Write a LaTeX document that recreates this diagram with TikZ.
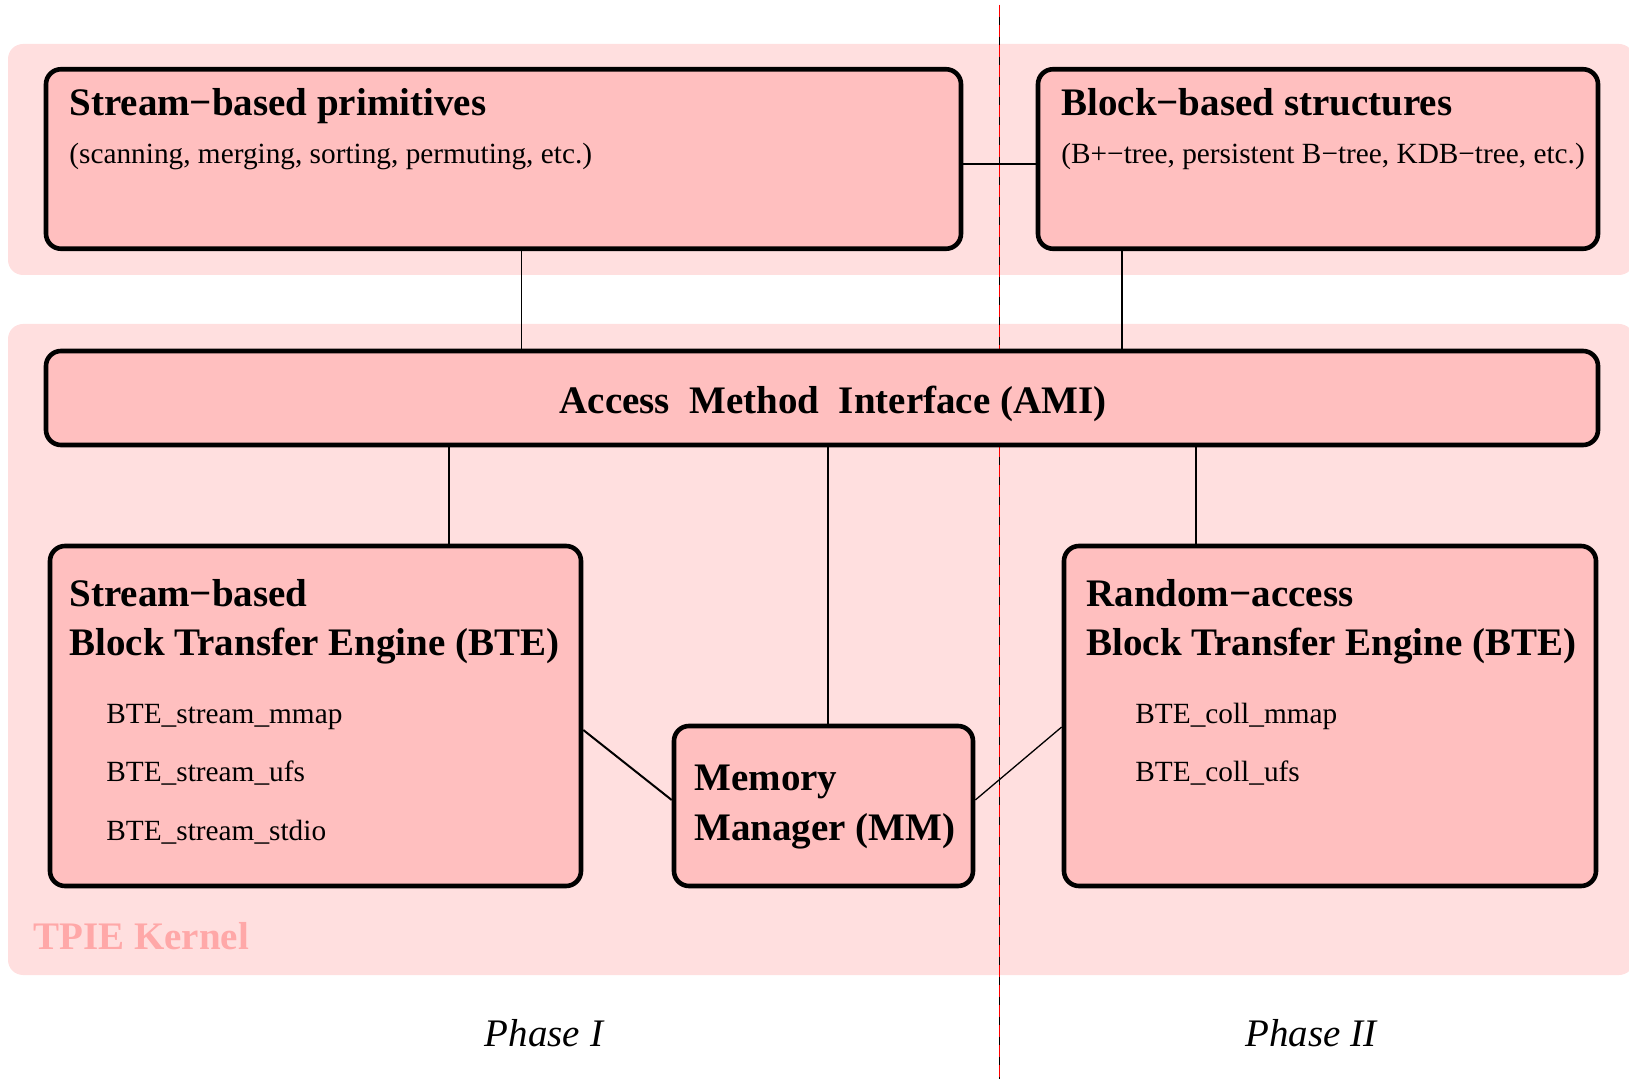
\documentclass[tikz,border=0pt]{standalone}
\usepackage{fontspec}
\setmainfont{Liberation Serif}
\definecolor{bandpink}{HTML}{FFDFDF}
\definecolor{boxpink}{HTML}{FFBFBF}
\definecolor{kernelpink}{HTML}{FFA8A8}
\begin{document}
\begin{tikzpicture}[x=0.5pt,y=-0.5pt,
  band/.style={fill=bandpink, rounded corners=7.5pt},
  box/.style={draw=black, line width=2.3pt, fill=boxpink, rounded corners=7.5pt, inner sep=0pt},
  big/.style={font=\fontsize{19.5}{23}\selectfont\bfseries, inner sep=0pt, anchor=base west},
  small/.style={font=\fontsize{14.65}{17}\selectfont, inner sep=0pt, anchor=base west},
  phase/.style={font=\fontsize{19.5}{23}\selectfont\itshape, inner sep=0pt, anchor=base},
  link/.style={line width=0.65pt},
  diag/.style={line width=1pt}]
\useasboundingbox (0,0) rectangle (1629,1079);

% shaded layers
\fill[band] (8,44) rectangle (1634,275);
\fill[band] (8,324) rectangle (1634,975);

% phase divider
\draw[line width=0.6pt, black] (999.5,5) -- (999.5,1079);
\draw[line width=0.6pt, red, dash pattern=on 6pt off 4pt] (999.5,5) -- (999.5,1079);

% boxes
\node[box, minimum width=457.5pt, minimum height=89.75pt] (spp) at (503.5,159) {};
\node[box, minimum width=280pt, minimum height=89.75pt] (bbs) at (1318,159) {};
\node[box, minimum width=776pt, minimum height=47pt] (ami) at (822,398) {};
\node[box, minimum width=265.5pt, minimum height=170pt] (sbte) at (315.5,716) {};
\node[box, minimum width=266pt, minimum height=170pt] (rbte) at (1330,716) {};
\node[box, minimum width=149.5pt, minimum height=80pt] (mm) at (823.5,806) {};

% connectors
\draw[link] (spp.east |- 0,164) -- (bbs.west |- 0,164);
\draw[link] (spp.south -| 521.5,0) -- (ami.north -| 521.5,0);
\draw[link] (bbs.south -| 1122,0) -- (ami.north -| 1122,0);
\draw[link] (ami.south -| 449,0) -- (sbte.north -| 449,0);
\draw[link] (ami.south -| 828,0) -- (mm.north -| 828,0);
\draw[link] (ami.south -| 1196,0) -- (rbte.north -| 1196,0);
\draw[diag] (sbte.east |- 0,730) -- (mm.west |- 0,800);
\draw[link] (mm.east |- 0,800) -- (rbte.west |- 0,727);

% box texts
\node[big] (spp-t) at (69,116) {Stream−based primitives};
\node[small] (spp-s) at (69,164) {(scanning, merging, sorting, permuting, etc.)};
\node[big] (bbs-t) at (1061,116) {Block−based structures};
\node[small] (bbs-s) at (1061,164) {(B+−tree, persistent B−tree, KDB−tree, etc.)};
\node[big, anchor=base] (ami-t) at (833,414) {Access\ \ Method\ \ Interface (AMI)};

\node[big] (sbte-t1) at (69,607) {Stream−based};
\node[big] (sbte-t2) at (69,656) {Block Transfer Engine (BTE)};
\node[small] (sbte-a) at (106,724) {BTE\_stream\_mmap};
\node[small] (sbte-b) at (106,782) {BTE\_stream\_ufs};
\node[small] (sbte-c) at (106,841) {BTE\_stream\_stdio};

\node[big] (rbte-t1) at (1086,607) {Random−access};
\node[big] (rbte-t2) at (1086,656) {Block Transfer Engine (BTE)};
\node[small] (rbte-a) at (1135,724) {BTE\_coll\_mmap};
\node[small] (rbte-b) at (1135,782) {BTE\_coll\_ufs};

\node[big] (mm-t1) at (694,791) {Memory};
\node[big] (mm-t2) at (694,841) {Manager (MM)};

\node[big, text=kernelpink] (kernel) at (33,950) {TPIE Kernel};

\node[phase] (ph1) at (544,1046) {Phase I};
\node[phase] (ph2) at (1311,1046) {Phase II};
\end{tikzpicture}
\end{document}
